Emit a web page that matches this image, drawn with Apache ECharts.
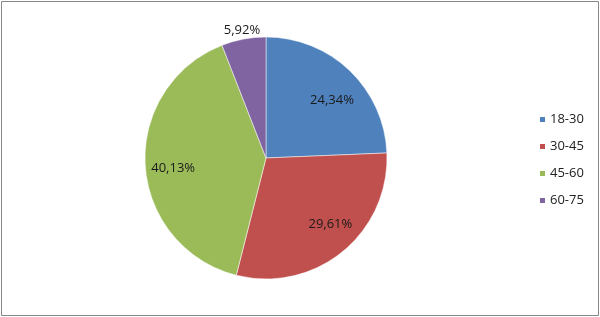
<!DOCTYPE html>
<html>
<head>
<meta charset="utf-8">
<script src="https://cdn.jsdelivr.net/npm/echarts@6/dist/echarts.min.js"></script>
<style>
html,body{margin:0;padding:0;background:#fff;}
#c{width:600px;height:317px;}
</style>
</head>
<body>
<div id="c"></div>
<script>
var categories = ['18-30', '30-45', '45-60', '60-75'];
var values = [24.34, 29.61, 40.13, 5.92];
var colors = ['#4F81BD', '#C0504D', '#9BBB59', '#8064A2'];
var labelTexts = ['24,34%', '29,61%', '40,13%', '5,92%'];

var font = 'Open Sans';
var center = [266, 158];
var R = 121;
// small nudges to mimic the "best fit" label placement of the original
var nudges = [[3, 8], [7, -4], [-2, 5], [0, 0]];

function data(showFn) {
  return categories.map(function (c, i) {
    return {
      name: c,
      value: values[i],
      label: { show: showFn(i) }
    };
  });
}

function layout(p) {
  var n = nudges[p.dataIndex] || [0, 0];
  return { dx: n[0], dy: n[1] };
}

var chart = echarts.init(document.getElementById('c'), null, { renderer: 'canvas' });
chart.setOption({
  backgroundColor: '#ffffff',
  animation: false,
  color: colors,
  graphic: [{
    type: 'rect',
    shape: { x: 1.5, y: 1.5, width: 597, height: 314 },
    style: { fill: 'none', stroke: '#878787', lineWidth: 1 },
    silent: true
  }],
  legend: {
    orient: 'vertical',
    left: 533,
    top: 108,
    itemWidth: 7,
    itemHeight: 7,
    itemGap: 14,
    icon: 'rect',
    data: categories,
    textStyle: { fontFamily: font, fontSize: 13, color: '#222', padding: [0, 0, 0, -1] }
  },
  series: [{
    type: 'pie',
    center: center,
    radius: [0, R],
    startAngle: 90,
    clockwise: true,
    label: { show: false },
    labelLine: { show: false },
    itemStyle: { borderWidth: 0.5, borderColor: '#ffffff' },
    data: categories.map(function (c, i) { return { name: c, value: values[i] }; })
  }, {
    type: 'pie',
    center: center,
    radius: [55, R],
    startAngle: 90,
    clockwise: true,
    silent: true,
    legendHoverLink: false,
    itemStyle: { color: 'rgba(0,0,0,0)' },
    label: {
      position: 'inside',
      fontFamily: font,
      fontSize: 13,
      color: '#1a1a1a',
      formatter: function (p) { return labelTexts[p.dataIndex]; }
    },
    labelLayout: layout,
    labelLine: { show: false },
    data: data(function (i) { return i < 3; })
  }, {
    type: 'pie',
    center: center,
    radius: [R - 3, R + 15],
    startAngle: 90,
    clockwise: true,
    silent: true,
    legendHoverLink: false,
    itemStyle: { color: 'rgba(0,0,0,0)' },
    label: {
      position: 'inside',
      fontFamily: font,
      fontSize: 13,
      color: '#1a1a1a',
      formatter: function (p) { return labelTexts[p.dataIndex]; }
    },
    labelLine: { show: false },
    data: data(function (i) { return i === 3; })
  }]
});
</script>
</body>
</html>
